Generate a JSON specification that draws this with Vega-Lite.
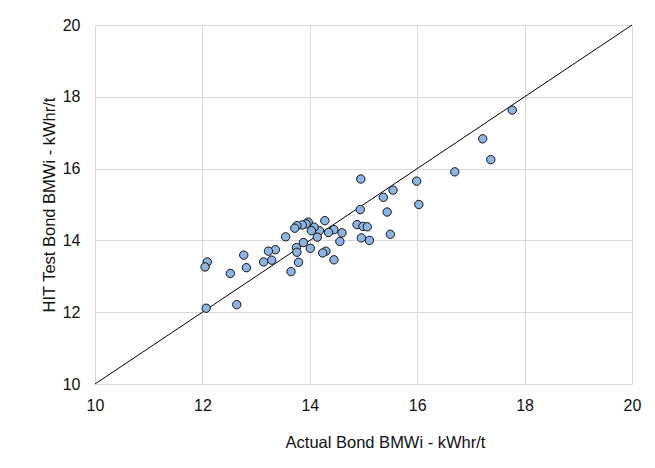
{
  "$schema": "https://vega.github.io/schema/vega-lite/v6.json",
  "width": 537,
  "height": 359,
  "autosize": {"type": "none"},
  "padding": {"left": 95, "top": 25, "right": 23, "bottom": 84},
  "background": "white",
  "config": {
    "view": {"stroke": null},
    "font": "Liberation Sans",
    "axis": {
      "grid": true,
      "gridColor": "#D9D9D9",
      "gridWidth": 1,
      "ticks": false,
      "domain": false,
      "labelFontSize": 16,
      "labelColor": "#111111",
      "titleFontSize": 16.5,
      "titleFontWeight": "normal",
      "titleColor": "#111111",
      "labelFont": "Liberation Sans",
      "titleFont": "Liberation Sans"
    }
  },
  "layer": [
    {
      "data": {"values": [{"x": 10, "y": 10}, {"x": 20, "y": 20}]},
      "mark": {"type": "line", "color": "#000000", "strokeWidth": 1},
      "encoding": {
        "x": {"field": "x", "type": "quantitative", "scale": {"domain": [10, 20], "nice": false},
          "axis": {"values": [10, 12, 14, 16, 18, 20], "labelPadding": 13, "title": "Actual Bond BMWi - kWhr/t",
            "titleX": 290, "titleY": 63, "titleBaseline": "alphabetic", "titleAlign": "center", "labelFlush": false}},
        "y": {"field": "y", "type": "quantitative", "scale": {"domain": [10, 20], "nice": false},
          "axis": {"values": [10, 12, 14, 16, 18, 20], "labelPadding": 15, "title": "HIT Test Bond BMWi - kWhr/t",
            "titleX": -40.5, "titleY": 179.5, "titleAngle": 270, "titleBaseline": "alphabetic", "titleAlign": "center"}}
      }
    },
    {
      "data": {"values": [
        {"actual": 17.77, "hit": 17.63},
        {"actual": 17.22, "hit": 16.83},
        {"actual": 17.37, "hit": 16.25},
        {"actual": 16.70, "hit": 15.91},
        {"actual": 15.99, "hit": 15.65},
        {"actual": 16.03, "hit": 15.00},
        {"actual": 15.55, "hit": 15.40},
        {"actual": 15.37, "hit": 15.20},
        {"actual": 14.95, "hit": 15.71},
        {"actual": 14.94, "hit": 14.86},
        {"actual": 15.44, "hit": 14.79},
        {"actual": 15.50, "hit": 14.17},
        {"actual": 14.88, "hit": 14.44},
        {"actual": 14.99, "hit": 14.39},
        {"actual": 15.07, "hit": 14.38},
        {"actual": 14.96, "hit": 14.07},
        {"actual": 15.11, "hit": 14.00},
        {"actual": 14.60, "hit": 14.21},
        {"actual": 14.56, "hit": 13.97},
        {"actual": 14.45, "hit": 14.30},
        {"actual": 14.35, "hit": 14.22},
        {"actual": 14.28, "hit": 14.55},
        {"actual": 14.45, "hit": 13.46},
        {"actual": 14.30, "hit": 13.70},
        {"actual": 14.24, "hit": 13.65},
        {"actual": 14.18, "hit": 14.27},
        {"actual": 14.14, "hit": 14.09},
        {"actual": 14.08, "hit": 14.37},
        {"actual": 14.03, "hit": 14.27},
        {"actual": 13.97, "hit": 14.51},
        {"actual": 13.93, "hit": 14.46},
        {"actual": 13.86, "hit": 14.43},
        {"actual": 13.76, "hit": 14.41},
        {"actual": 13.72, "hit": 14.34},
        {"actual": 14.01, "hit": 13.78},
        {"actual": 13.88, "hit": 13.94},
        {"actual": 13.75, "hit": 13.80},
        {"actual": 13.76, "hit": 13.67},
        {"actual": 13.79, "hit": 13.39},
        {"actual": 13.65, "hit": 13.13},
        {"actual": 13.55, "hit": 14.10},
        {"actual": 13.36, "hit": 13.74},
        {"actual": 13.23, "hit": 13.70},
        {"actual": 13.29, "hit": 13.45},
        {"actual": 13.14, "hit": 13.40},
        {"actual": 12.82, "hit": 13.24},
        {"actual": 12.77, "hit": 13.59},
        {"actual": 12.52, "hit": 13.08},
        {"actual": 12.64, "hit": 12.21},
        {"actual": 12.07, "hit": 12.11},
        {"actual": 12.09, "hit": 13.40},
        {"actual": 12.05, "hit": 13.26}
      ]},
      "mark": {"type": "point", "shape": "circle", "filled": true, "fill": "#8DB4E2", "stroke": "#111111", "strokeWidth": 1, "size": 70, "opacity": 1},
      "encoding": {
        "x": {"field": "actual", "type": "quantitative"},
        "y": {"field": "hit", "type": "quantitative"}
      }
    }
  ]
}
